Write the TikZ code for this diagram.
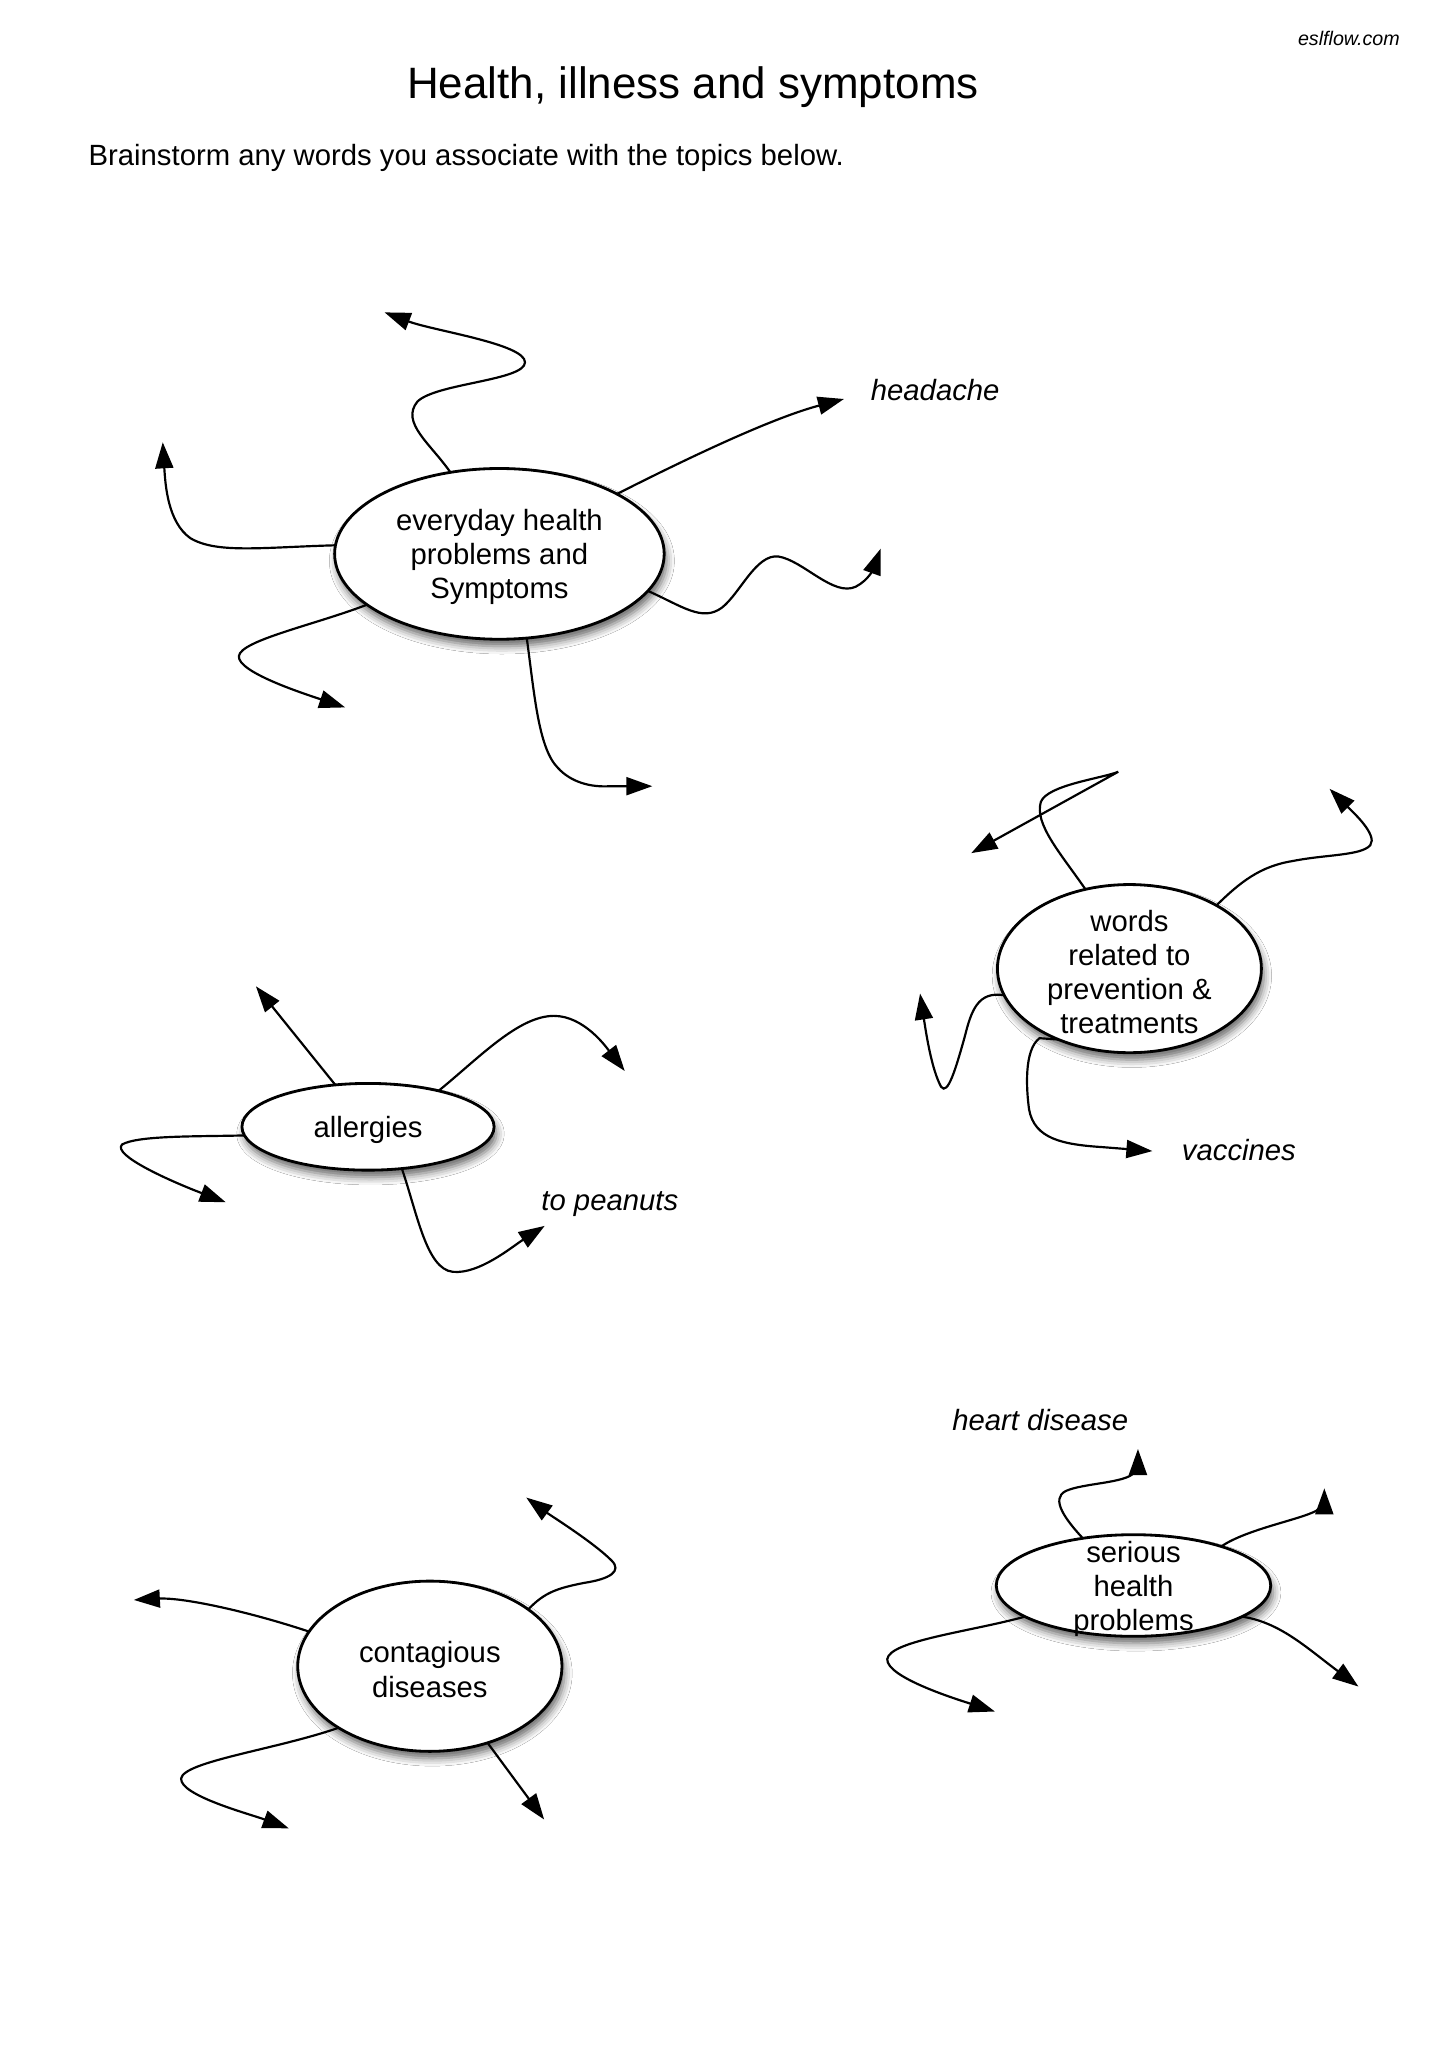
\documentclass[tikz,border=0pt]{standalone}
\usepackage{fontspec}
\setmainfont{Liberation Sans}
\usetikzlibrary{shapes.geometric,arrows.meta,shadows.blur}
\begin{document}
\begin{tikzpicture}[x=0.013129cm,y=-0.013129cm,
  bubble/.style={ellipse, draw, line width=0.8pt, fill=white, inner sep=0pt, outer sep=0pt,
    blur shadow={shadow xshift=0.7pt, shadow yshift=-2pt, shadow blur radius=2.2pt, shadow opacity=60}},
  lbl/.style={font=\fontsize{8.33pt}{9.7pt}\selectfont, align=center, inner sep=0pt},
  ital/.style={font=\fontsize{8.33pt}{9.7pt}\selectfont\itshape, inner sep=0pt, anchor=west},
  arr/.style={line width=0.62pt, -{Triangle[length=0.26cm,width=0.18cm]}},
  ]
\fill[white] (0,0) rectangle (1109,1568);
\useasboundingbox (0,0) rectangle (1109,1568);

% header
\node[font=\fontsize{5.6pt}{7pt}\selectfont\itshape, anchor=east, inner sep=0pt] (site) at (1067,29) {eslflow.com};
\node[font=\fontsize{12.5pt}{15pt}\selectfont, inner sep=0pt] (title) at (528,66.5) {Health, illness and symptoms};
\node[font=\fontsize{8.33pt}{9.7pt}\selectfont, anchor=west, inner sep=0pt] (intro) at (67,120) {Brainstorm any words you associate with the topics below.};

% bubbles
\node[bubble, minimum width=3.295cm, minimum height=1.707cm] (e1) at (380.5,422) {};
\node[bubble, minimum width=2.639cm, minimum height=1.681cm] (e2) at (860.5,738) {};
\node[bubble, minimum width=2.521cm, minimum height=0.867cm] (e3) at (280.4,858.5) {};
\node[bubble, minimum width=2.642cm, minimum height=1.702cm] (e4) at (327.5,1269.5) {};
\node[bubble, minimum width=2.744cm, minimum height=1.016cm] (e5) at (863.6,1208) {};

% arrow tips
\coordinate (e1a) at (293,238);
\coordinate (e1b) at (643,304);
\coordinate (e1c) at (124,337);
\coordinate (e1d) at (671,418);
\coordinate (e1e) at (263,539);
\coordinate (e1f) at (497,599);
\coordinate (e2a) at (740,650);
\coordinate (e2b) at (1013,601);
\coordinate (e2c) at (701,757);
\coordinate (e2d) at (878,877);
\coordinate (e3a) at (195,751.5);
\coordinate (e3b) at (476,816);
\coordinate (e3c) at (172,916);
\coordinate (e3d) at (415,934);
\coordinate (e4a) at (102,1219);
\coordinate (e4b) at (401,1141);
\coordinate (e4c) at (220,1393);
\coordinate (e4d) at (414.6,1386.3);
\coordinate (e5a) at (867,1104);
\coordinate (e5b) at (1009,1134);
\coordinate (e5c) at (758,1304);
\coordinate (e5d) at (1035,1285);

% everyday health problems
\draw[arr] (e1.121) .. controls (328,338) and (305,322) .. (318,306) .. controls (332,292) and (400,290) .. (400,276) .. controls (400,262) and (330,252) .. (e1a);
\draw[arr] (e1.27) .. controls (530,346) and (590,318) .. (e1b);
\draw[arr] (e1.177) .. controls (200,417) and (165,422) .. (145,410) .. controls (128,398) and (126,370) .. (e1c);
\draw[arr] (e1.-14.6) .. controls (520,462) and (535,474) .. (550,463) .. controls (564,452) and (576,422) .. (593,424) .. controls (612,427) and (635,455) .. (652,447) .. controls (662,442) and (666,432) .. (e1d);
\draw[arr] (e1.201.3) .. controls (240,476) and (183,488) .. (182,500) .. controls (181,512) and (230,528) .. (e1e);
\draw[arr] (e1.-72.5) .. controls (407,527) and (410,570) .. (425,585) .. controls (435,596) and (450,600) .. (465,599) -- (e1f);

% prevention
\draw[arr] (e2.119) .. controls (808,650) and (788,628) .. (793,611) .. controls (798,598) and (840,593) .. (852,588) -- (e2a);
\draw[arr] (e2.36) .. controls (945,672) and (960,660) .. (985,656) .. controls (1010,651) and (1037,652) .. (1044,644) .. controls (1050,636) and (1030,618) .. (e2b);
\draw[arr] (e2.192.3) .. controls (745,755) and (740,770) .. (735,790) .. controls (728,815) and (722,835) .. (717,828) .. controls (710,815) and (706,790) .. (e2c);
\draw[arr] (e2.225.8) -- (792,791) .. controls (780,800) and (782,830) .. (784,845) .. controls (788,868) and (810,872) .. (840,874) -- (e2d);

% allergies
\draw[arr] (e3.128.7) -- (e3a);
\draw[arr] (e3.27.2) .. controls (365,806) and (395,774) .. (422,774) .. controls (445,774) and (462,798) .. (e3b);
\draw[arr] (e3.184.3) .. controls (150,866) and (105,865) .. (93,872) .. controls (85,880) and (130,900) .. (e3c);
\draw[arr] (e3.-51.2) .. controls (318,925) and (325,967) .. (345,969) .. controls (365,971) and (390,950) .. (e3d);

% contagious diseases
\draw[arr] (e4.164) .. controls (190,1228) and (140,1217) .. (e4a);
\draw[arr] (e4.30.9) .. controls (415,1213) and (425,1210) .. (445,1206) .. controls (465,1203) and (474,1197) .. (466,1189) .. controls (452,1175) and (420,1155) .. (e4b);
\draw[arr] (e4.214.6) .. controls (210,1333) and (140,1342) .. (138,1355) .. controls (137,1368) and (190,1382) .. (e4c);
\draw[arr] (e4.-53.5) -- (e4d);

% serious health problems
\draw[arr] (e5.137.8) .. controls (812,1158) and (800,1142) .. (812,1136) .. controls (825,1130) and (858,1130) .. (864,1122) .. controls (867,1118) and (867,1112) .. (e5a);
\draw[arr] (e5.24.5) .. controls (950,1165) and (990,1158) .. (1003,1151) .. controls (1007,1148) and (1009,1142) .. (e5b);
\draw[arr] (e5.196.8) .. controls (740,1243) and (678,1250) .. (676,1264) .. controls (675,1278) and (730,1295) .. (e5c);
\draw[arr] (e5.-16.4) .. controls (975,1236) and (995,1255) .. (e5d);

% bubble texts
\node[lbl] (t1) at (380.5,424.5) {everyday health\\problems and\\Symptoms};
\node[lbl] (t2) at (860.5,740.5) {words\\related to\\prevention \&\\treatments};
\node[lbl] (t3) at (280.4,861) {allergies};
\node[lbl] (t4) at (327.5,1272) {contagious\\diseases};
\node[lbl] (t5) at (863.6,1210.5) {serious\\health\\problems};

% example words
\node[ital] (w1) at (663,297) {headache};
\node[ital] (w2) at (900,876) {vaccines};
\node[ital] (w3) at (412,917.5) {to peanuts};
\node[ital] (w4) at (725,1082) {heart disease};
\end{tikzpicture}
\end{document}
